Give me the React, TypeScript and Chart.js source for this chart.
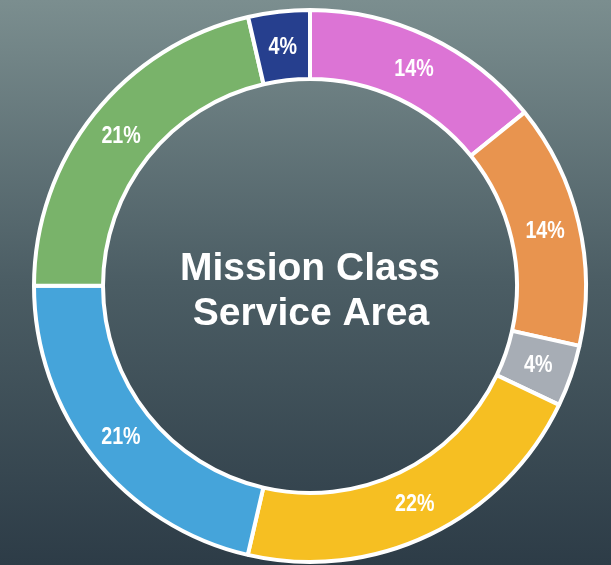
import React, { useEffect, useRef } from "react";
import { Chart, registerables } from "chart.js";

Chart.register(...registerables);

const categories = ["Magenta", "Orange", "Gray", "Yellow", "Blue", "Green", "Navy"];
const values = [14.17, 14.31, 3.61, 21.53, 21.39, 21.39, 3.6];
const valueLabels = ["14%", "14%", "4%", "22%", "21%", "21%", "4%"];
const colors = ["#dc74d5", "#e8944f", "#a7adb5", "#f6bf22", "#45a4da", "#79b36a", "#263f8e"];
const centerLines = ["Mission Class", "Service Area"];

const labelPlugin = {
  id: "sliceLabels",
  afterDatasetsDraw(chart: any) {
    const ctx = chart.ctx;
    const meta = chart.getDatasetMeta(0);
    ctx.save();
    ctx.fillStyle = "#ffffff";
    ctx.textAlign = "center";
    ctx.textBaseline = "middle";
    ctx.font = 'bold 24px "Liberation Sans", Arial, sans-serif';
    meta.data.forEach((arc: any, i: number) => {
      const p = arc.getProps(["x", "y", "startAngle", "endAngle", "innerRadius", "outerRadius"], true);
      const mid = (p.startAngle + p.endAngle) / 2;
      const r = (p.innerRadius + p.outerRadius) / 2;
      const lx = p.x + Math.cos(mid) * r;
      const ly = p.y + Math.sin(mid) * r + 1;
      ctx.save();
      ctx.translate(lx, ly);
      ctx.scale(0.82, 1);
      ctx.fillText(valueLabels[i], 0, 0);
      ctx.restore();
    });
    const cx = meta.data[0].x;
    ctx.font = 'bold 39px "Liberation Sans", Arial, sans-serif';
    ctx.textBaseline = "alphabetic";
    ctx.fillText(centerLines[0], cx, 280);
    ctx.fillText(centerLines[1], cx + 1, 325);
    ctx.restore();
  },
};

export default function App() {
  const ref = useRef<HTMLCanvasElement>(null);
  useEffect(() => {
    const chart = new Chart(ref.current!, {
      type: "doughnut",
      data: {
        labels: categories,
        datasets: [
          {
            data: values,
            backgroundColor: colors,
            borderColor: "#ffffff",
            borderWidth: 4,
          },
        ],
      },
      options: {
        animation: false,
        responsive: false,
        maintainAspectRatio: false,
        cutout: "75%",
        layout: { padding: { left: 32, right: 23, top: 8, bottom: 1 } },
        plugins: { legend: { display: false }, tooltip: { enabled: false } },
      },
      plugins: [labelPlugin],
    });
    return () => chart.destroy();
  }, []);
  return (
    <div
      style={{
        position: "fixed",
        left: 0,
        top: 0,
        width: 611,
        height: 565,
        background: "linear-gradient(to bottom, #7b8e8f 0%, #4b5d64 50%, #2d3c47 100%)",
      }}
    >
      <canvas ref={ref} width={611} height={565} style={{ display: "block" }} />
    </div>
  );
}
